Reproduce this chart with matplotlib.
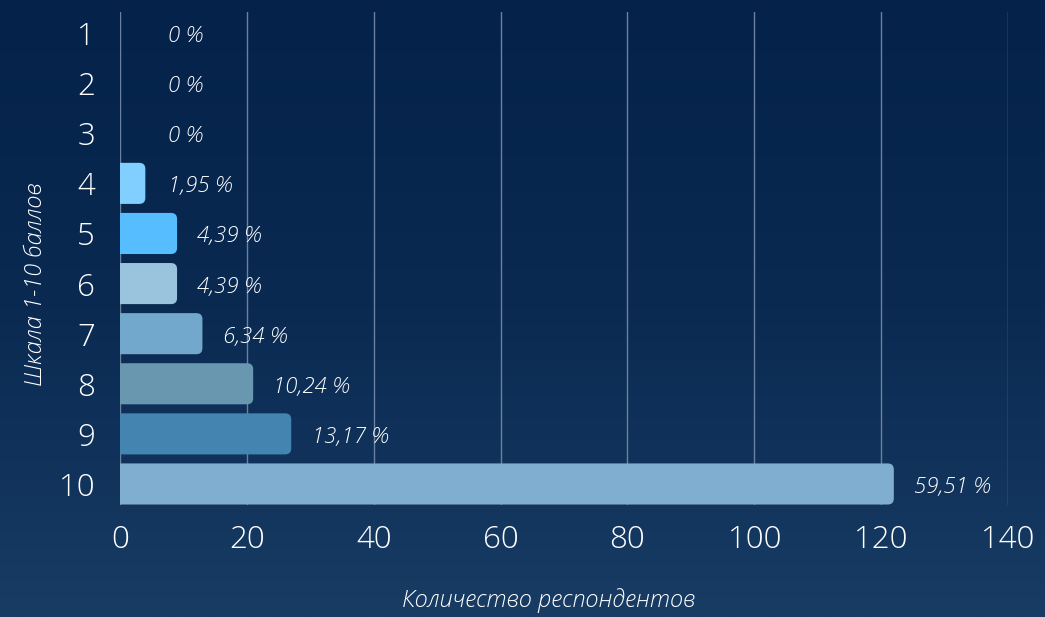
import matplotlib.pyplot as plt
import numpy as np
from matplotlib.patches import FancyBboxPatch
from matplotlib.colors import LinearSegmentedColormap

plt.rcParams['font.family'] = ['Open Sans', 'DejaVu Sans']

scores = ["1", "2", "3", "4", "5", "6", "7", "8", "9", "10"]
counts = [0, 0, 0, 4, 9, 9, 13, 21, 27, 122]
percents = ["0 %", "0 %", "0 %", "1,95 %", "4,39 %", "4,39 %", "6,34 %", "10,24 %", "13,17 %", "59,51 %"]
colors = ["#80cfff", "#80cfff", "#80cfff", "#80cfff", "#56beff", "#9ac4dd",
          "#72a8cc", "#6a97b0", "#4385b0", "#7faed0"]
xticks = [0, 20, 40, 60, 80, 100, 120, 140]

fig = plt.figure(figsize=(10.45, 6.17), dpi=100)

# gradient background
bg = fig.add_axes([0, 0, 1, 1], zorder=-10)
cmap = LinearSegmentedColormap.from_list("bg", ["#04224a", "#0a2a52", "#183c64"])
grad = np.linspace(0, 1, 256).reshape(-1, 1)
bg.imshow(grad, aspect='auto', cmap=cmap, extent=[0, 1, 0, 1], origin='upper')
bg.axis('off')

ax = fig.add_axes([0.1148, 0.1815, 0.8498, 0.799])
ax.set_facecolor('none')

y = np.arange(1, len(scores) + 1)
ax.set_xlim(0, 140)
ax.set_ylim(10.42, 0.58)

# rounded bars
bar_h = 0.82
r = 0.95
asp = 0.126
for yi, c, col in zip(y, counts, colors):
    if c <= 0:
        continue
    p = FancyBboxPatch((-2, yi - bar_h / 2), c + 2, bar_h,
                       boxstyle=f"round,pad=0,rounding_size={r}",
                       mutation_aspect=asp, facecolor=col, edgecolor='none',
                       zorder=3, clip_on=True)
    ax.add_patch(p)

# percentage labels
for yi, c, t in zip(y, counts, percents):
    x_lab = max(c + 3.2, 7.6)
    ax.text(x_lab, yi + 0.06, t, va='center', ha='left', color='white',
            fontsize=16, style='italic', fontweight='light', zorder=4)

ax.set_xticks(xticks)
ax.set_yticks(y)
ax.set_yticklabels(scores)
ax.grid(axis='x', color='#6b819d', linewidth=1, zorder=0)
ax.axvline(0, color='#b8c4d0', linewidth=1.2, zorder=1)
for s in ax.spines.values():
    s.set_visible(False)
ax.tick_params(axis='both', length=0, colors='white', labelsize=22.5)
ax.tick_params(axis='y', pad=18)
ax.tick_params(axis='x', pad=14)
for lab in ax.get_xticklabels() + ax.get_yticklabels():
    lab.set_fontweight('light')

fig.text(0.525, 0.027, "Количество респондентов", ha='center', va='center',
         color='white', fontsize=17, style='italic', fontweight='light')
fig.text(0.034, 0.54, "Шкала 1-10 баллов", ha='center', va='center',
         rotation=90, color='white', fontsize=17, style='italic', fontweight='light')

fig.savefig("out.png", dpi=100)
